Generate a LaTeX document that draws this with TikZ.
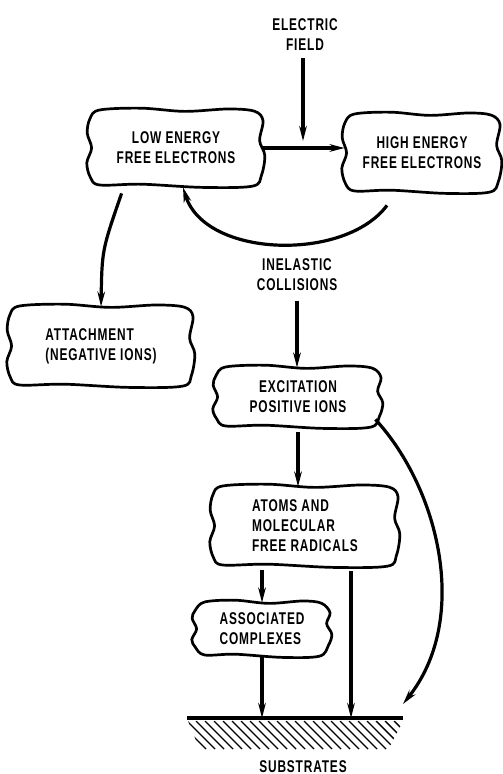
\documentclass[tikz,border=0pt]{standalone}
\usepackage{fontspec}
\setmainfont{Liberation Sans}[FakeStretch=0.7,LetterSpace=5]
\usetikzlibrary{arrows.meta,calc}
\newcommand\wavybox[1]{%
  \draw[boxline] plot[smooth cycle, tension=0.55] coordinates {
    ($(#1.north west)+(5pt,0.3pt)$)
    ($(#1.north west)!0.3!(#1.north east)+(0,1.2pt)$)
    ($(#1.north west)!0.55!(#1.north east)+(0,-0.4pt)$)
    ($(#1.north west)!0.8!(#1.north east)+(0,0.8pt)$)
    ($(#1.north east)+(-4pt,-0.3pt)$)
    ($(#1.north east)+(0.3pt,-5pt)$)
    ($(#1.north east)!0.4!(#1.south east)+(-1.4pt,0)$)
    ($(#1.north east)!0.6!(#1.south east)+(1.2pt,0)$)
    ($(#1.south east)+(-0.5pt,5pt)$)
    ($(#1.south east)+(-5pt,-0.4pt)$)
    ($(#1.south east)!0.35!(#1.south west)+(0,-1pt)$)
    ($(#1.south east)!0.7!(#1.south west)+(0,0.6pt)$)
    ($(#1.south west)+(5pt,0.2pt)$)
    ($(#1.south west)+(0.4pt,4pt)$)
    ($(#1.south west)!0.3!(#1.north west)+(-1.4pt,0)$)
    ($(#1.south west)!0.5!(#1.north west)+(1pt,0)$)
    ($(#1.south west)!0.7!(#1.north west)+(-1.2pt,0)$)
    ($(#1.north west)+(0.2pt,-4pt)$)
  };}
\begin{document}
\begin{tikzpicture}[x=0.5pt,y=0.5pt,
  every node/.style={font=\fontsize{8.5}{10}\selectfont\bfseries, align=center},
  cloudbox/.style={inner sep=2pt},
  boxline/.style={line width=1.35pt},
  labeltext/.style={inner sep=1pt},
  endtip/.style={line width=1.6pt, -{Stealth[length=7.5pt,width=3.8pt]}}]
\useasboundingbox (0,0) rectangle (502,774);

% nodes
\node[labeltext] (efield) at (305,739) {ELECTRIC\\FIELD};
\node[cloudbox, minimum width=86pt, minimum height=37pt] (low) at (176,626) {LOW ENERGY\\FREE ELECTRONS};
\node[cloudbox, minimum width=77pt, minimum height=38pt] (high) at (422,621) {HIGH ENERGY\\FREE ELECTRONS};
\node[labeltext] (inel) at (297,499) {INELASTIC\\COLLISIONS};
\node[cloudbox, align=left, minimum width=91pt, minimum height=39pt] (attach) at (101,428) {ATTACHMENT\\(NEGATIVE IONS)};
\node[cloudbox, minimum width=82pt, minimum height=29pt] (exc) at (298,377) {EXCITATION\\POSITIVE IONS};
\node[cloudbox, align=left, minimum width=92pt, minimum height=39pt] (atoms) at (305,248) {ATOMS AND\\MOLECULAR\\FREE RADICALS};
\node[cloudbox, align=left, minimum width=67pt, minimum height=26pt] (assoc) at (262,145) {ASSOCIATED\\COMPLEXES};
\node[labeltext] (subs) at (303,7) {SUBSTRATES};

\wavybox{low}
\wavybox{high}
\wavybox{attach}
\wavybox{exc}
\wavybox{atoms}
\wavybox{assoc}

% coordinates
\coordinate (sl) at (187,56);
\coordinate (sr) at (403,56);
\coordinate (fieldend) at (303,633);
\coordinate (subtip) at (403,70);
\coordinate (ar) at ($(atoms.south)+(46,-6)$);

% connectors
\draw[endtip] ($(efield.south)+(-2,-5)$) -- (fieldend);
\draw[endtip] (low.east) -- (low.east -| high.west);
\draw[endtip] ($(high.south)+(-35,-14)$) .. controls (345,512) and (205,516) .. ($(low.south)+(7,-2)$);
\draw[endtip] ($(low.south west)+(32,-8)$) .. controls (102,524) .. (attach.north);
\draw[endtip] ($(inel.south)+(0,-8)$) -- (inel.south |- exc.north);
\draw[endtip] ($(exc.south)+(0,-6)$) -- (exc.south |- atoms.north);
\draw[endtip] ($(exc.south east)+(-5,7)$) .. controls (440,284) and (470,154) .. (subtip);
\draw[endtip] ($(atoms.south -| assoc.north)+(0,-5)$) -- (assoc.north);
\draw[endtip] (assoc.south) -- (assoc.south |- sl);
\draw[endtip] (ar) -- (ar |- sl);

% substrate
\draw[line width=2pt] (sl) -- (sr);
\begin{scope}
  \clip (188,53) -- (403,53) -- (388,24) -- (200,24) -- cycle;
  \foreach \x in {160,169,...,400} \draw[line width=0.7pt] (\x,53) -- ++(28,-28);
\end{scope}
\end{tikzpicture}
\end{document}
